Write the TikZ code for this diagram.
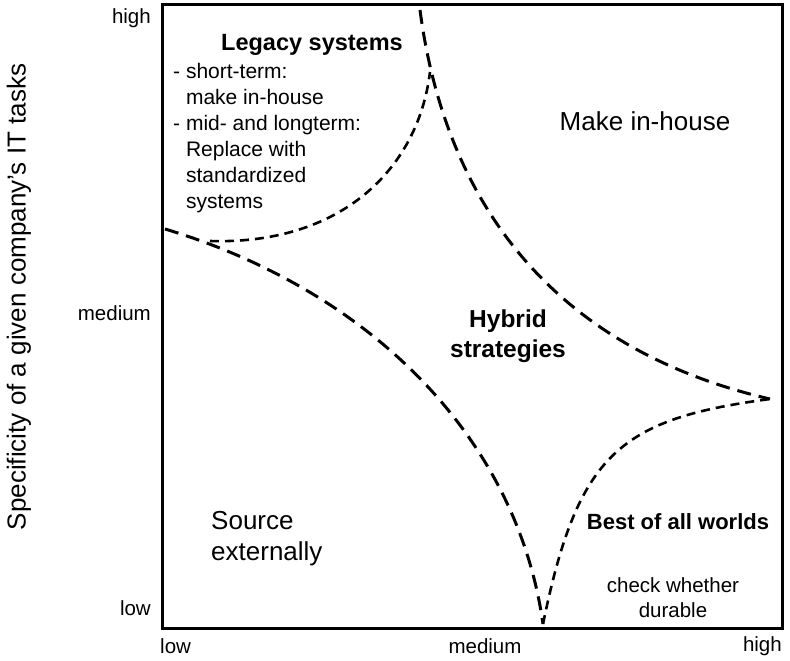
\documentclass[tikz,border=0pt]{standalone}
\usepackage{fontspec}
\setmainfont{Liberation Sans}
\usetikzlibrary{positioning}
\tikzset{frame/.style={line width=3pt},longdash/.style={line width=3pt,dash pattern=on 14pt off 8pt},shortdash/.style={line width=2.6pt,dash pattern=on 9pt off 6pt},
region/.style={font=\fontsize{26}{31}\selectfont,inner sep=0pt,align=center},head/.style={font=\fontsize{23.5}{30}\selectfont\bfseries,inner sep=0pt,align=center},
note/.style={font=\fontsize{21}{26}\selectfont,inner sep=0pt},axlbl/.style={font=\fontsize{20.5}{24}\selectfont,inner sep=0pt}}

\begin{document}
\begin{tikzpicture}[x=1pt,y=-1pt]
\useasboundingbox (0,0) rectangle (790,661);
\coordinate (nw) at (162,5);\coordinate (se) at (782,628);\coordinate (sw) at (162,628);
\coordinate (cT) at (420,10);\coordinate (cTa) at (430,72);\coordinate (cR) at (770,399);
\coordinate (cB) at (543,624);\coordinate (cL) at (165,229);\coordinate (cLa) at (210,241);
\draw[frame] (nw) rectangle (se);
% borders of the hybrid zone
\draw[longdash] (cT) .. controls (445,200) and (550,348) .. (cR);
\draw[longdash] (cL) .. controls (365,289) and (516,433) .. (cB);
% legacy and best-of-all-worlds zones
\draw[shortdash] (cLa) .. controls (340,245) and (418,170) .. (cTa);
\draw[shortdash] (cB) .. controls (578,453) and (620,419) .. (cR);
% zone texts
\node[head] (legacy) at (312,45) {Legacy systems};
\node[note,anchor=north west,align=left] (legnote) at (173,63) {- short-term:\\\phantom{- }make in-house\\- mid- and longterm:\\\phantom{- }Replace with\\\phantom{- }standardized\\\phantom{- }systems};
\node[region] (make) at (645,121) {Make in-house};
\node[head,font=\fontsize{24.5}{30}\selectfont\bfseries] (hybrid) at (508,336) {Hybrid\\strategies};
\node[region,anchor=west,align=left] (source) at (211,539) {Source\\externally};
\node[head,font=\fontsize{22}{30}\selectfont\bfseries] (best) at (678,522) {Best of all worlds};
\node[note,align=center,font=\fontsize{20.5}{25}\selectfont] (check) at (673,598) {check whether\\durable};
% axes
\node[axlbl,anchor=east] (yhigh) at (151,18) {high};
\node[axlbl,anchor=east] (ymed) at (151,313) {medium};
\node[axlbl,anchor=east] (ylow) at (151,608) {low};
\node[axlbl,anchor=west] (xlow) at (160,646) {low};
\node[axlbl] (xmed) at (485,646) {medium};
\node[axlbl,anchor=east] (xhigh) at (782,646) {high};
\node[rotate=90,font=\fontsize{26}{30}\selectfont,inner sep=0pt] (ytitle) at (19,297) {Specificity of a given company’s IT tasks};
\end{tikzpicture}
\end{document}
